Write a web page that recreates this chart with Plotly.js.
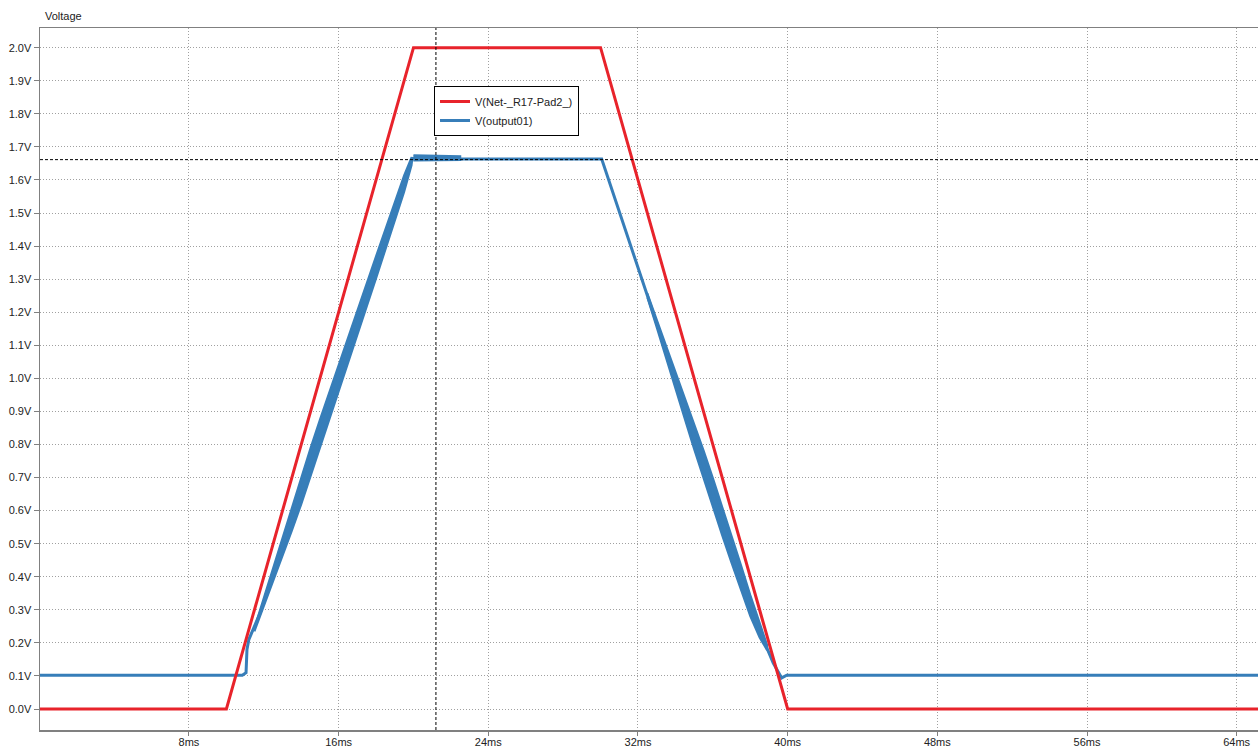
<!DOCTYPE html>
<html>
<head>
<meta charset="utf-8">
<script src="https://cdn.plot.ly/plotly-3.0.1.min.js"></script>
<style>
  html, body { margin: 0; padding: 0; background: #ffffff; }
  #chart { width: 1258px; height: 749px; }
</style>
</head>
<body>
<div id="chart"></div>
<script>
// ---- Data (time in ms, voltage in V) ----
const seriesNames = ["V(Net-_R17-Pad2_)", "V(output01)"];

const redTime = [0, 10, 20, 30, 40, 65.2];
const redVolt = [0, 0, 2.0, 2.0, 0, 0];

const blueTime = [0, 10.85, 11.05, 11.1, 11.2, 11.8, 19.95, 20.5, 21.5, 22.5,
                  30.06, 34.07, 38.25, 38.88, 39.23, 39.68, 39.95, 65.2];
const blueVolt = [0.102, 0.102, 0.11, 0.18, 0.21, 0.29, 1.665, 1.667, 1.665, 1.663,
                  1.663, 0.985, 0.27, 0.189, 0.139, 0.094, 0.102, 0.102];

// ripple envelope of output01 on the rising ramp
const riseBandTime  = [11.5, 12.0, 12.5, 13.0, 13.5, 14.0, 14.5, 15.0, 15.5, 16.0, 16.5, 17.0, 17.5, 18.0, 18.5, 19.0, 19.5, 19.9];
const riseBandUpper = [0.245, 0.336, 0.428, 0.522, 0.615, 0.703, 0.79, 0.875, 0.956, 1.039, 1.121, 1.203, 1.287, 1.37, 1.452, 1.535, 1.614, 1.669];
const riseBandLower = [0.235, 0.312, 0.388, 0.462, 0.539, 0.619, 0.70, 0.785, 0.872, 0.959, 1.045, 1.131, 1.217, 1.302, 1.388, 1.475, 1.564, 1.645];

// ripple envelope at the start of the plateau
const topBandTime  = [20.0, 21.0, 22.5];
const topBandUpper = [1.675, 1.674, 1.672];
const topBandLower = [1.659, 1.659, 1.660];

// ripple envelope on the falling ramp
const fallBandTime  = [32.5, 33.0, 33.5, 34.0, 34.5, 35.0, 35.5, 36.0, 36.5, 37.0, 37.5, 38.0, 38.5, 38.9];
const fallBandUpper = [1.257, 1.178, 1.102, 1.023, 0.945, 0.866, 0.783, 0.699, 0.613, 0.526, 0.436, 0.345, 0.26, 0.194];
const fallBandLower = [1.245, 1.154, 1.062, 0.967, 0.877, 0.786, 0.697, 0.611, 0.525, 0.442, 0.36, 0.281, 0.216, 0.178];

// cursor position
const cursorTime = [21.2];
const cursorVolt = [1.6614];

// tick values
const xTickVals = [8, 16, 24, 32, 40, 48, 56, 64];
const yTickVals = [0, 0.1, 0.2, 0.3, 0.4, 0.5, 0.6, 0.7, 0.8, 0.9, 1.0, 1.1, 1.2, 1.3, 1.4, 1.5, 1.6, 1.7, 1.8, 1.9, 2.0];

// ---- Styles ----
const RED = "#e8232b";
const BLUE = "#377eb9";
const FONT = "Liberation Sans, Arial, sans-serif";

function bandTrace(t, up, lo) {
  return {
    x: t.concat(t.slice().reverse()),
    y: up.concat(lo.slice().reverse()),
    type: "scatter", mode: "lines",
    fill: "toself", fillcolor: BLUE,
    line: { color: BLUE, width: 2 },
    hoverinfo: "skip", showlegend: false
  };
}

const traces = [
  bandTrace(riseBandTime, riseBandUpper, riseBandLower),
  bandTrace(topBandTime, topBandUpper, topBandLower),
  bandTrace(fallBandTime, fallBandUpper, fallBandLower),
  {
    x: blueTime, y: blueVolt, name: seriesNames[1],
    type: "scatter", mode: "lines",
    line: { color: BLUE, width: 3 }, legendrank: 2
  },
  {
    x: redTime, y: redVolt, name: seriesNames[0],
    type: "scatter", mode: "lines",
    line: { color: RED, width: 3 }, legendrank: 1
  }
];

const gridStyle = { showgrid: true, gridcolor: "#a0a0a0", griddash: "1px,2px", gridwidth: 1 };

const layout = {
  width: 1258, height: 749,
  paper_bgcolor: "#ffffff", plot_bgcolor: "#ffffff",
  margin: { l: 40, r: 0, t: 28, b: 19 },
  font: { family: FONT, size: 11, color: "#222222" },
  showlegend: true,
  legend: {
    x: 0.3235, y: 0.9174, xanchor: "left", yanchor: "top",
    bgcolor: "#ffffff", bordercolor: "#000000", borderwidth: 1,
    font: { family: FONT, size: 11, color: "#222222" },
    itemwidth: 30, tracegroupgap: 0
  },
  xaxis: Object.assign({
    range: [0.037, 65.14],
    tickmode: "array", tickvals: xTickVals,
    ticktext: xTickVals.map(v => v + "ms"),
    ticks: "outside", ticklen: 4, tickcolor: "#808080",
    ticklabelstandoff: -3,
    showline: true, linecolor: "#808080", linewidth: 1.5, mirror: true,
    zeroline: false,
    tickfont: { family: FONT, size: 11, color: "#222222" }
  }, gridStyle),
  yaxis: Object.assign({
    range: [-0.0635, 2.0595],
    tickmode: "array", tickvals: yTickVals,
    ticktext: yTickVals.map(v => v.toFixed(1) + "V"),
    ticks: "outside", ticklen: 5, tickcolor: "#808080",
    showline: true, linecolor: "#808080", linewidth: 1.5, mirror: false,
    zeroline: false,
    tickfont: { family: FONT, size: 11, color: "#222222" }
  }, gridStyle),
  shapes: [
    { type: "line", xref: "x", yref: "paper", x0: cursorTime[0], x1: cursorTime[0], y0: 0, y1: 1,
      line: { color: "#000000", width: 1, dash: "3px,2px" } },
    { type: "line", xref: "paper", yref: "y", x0: 0, x1: 1, y0: cursorVolt[0], y1: cursorVolt[0],
      line: { color: "#000000", width: 1, dash: "3px,2px" } }
  ],
  annotations: [
    { text: "Voltage", xref: "paper", yref: "paper", x: 0, y: 1, xanchor: "left", yanchor: "bottom",
      xshift: 3, yshift: 4, showarrow: false, font: { family: FONT, size: 11, color: "#222222" } }
  ]
};

Plotly.newPlot("chart", traces, layout, { displayModeBar: false, staticPlot: true });
</script>
</body>
</html>
